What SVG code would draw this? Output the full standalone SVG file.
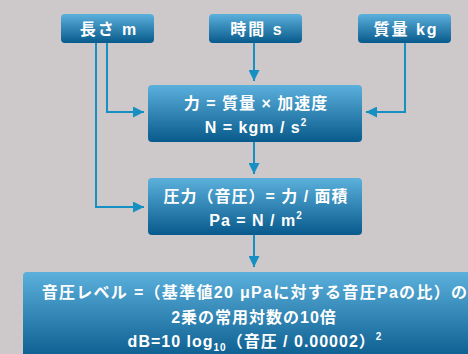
<svg xmlns="http://www.w3.org/2000/svg" width="468" height="354" viewBox="0 0 468 354">
<defs>
<linearGradient id="g" x1="0" y1="0" x2="0" y2="1">
<stop offset="0" stop-color="#5cb0dc"/>
<stop offset="1" stop-color="#075a8b"/>
</linearGradient>
<marker id="ah" markerUnits="userSpaceOnUse" markerWidth="11" markerHeight="11" viewBox="0 0 10 10" refX="10" refY="5" orient="auto">
<path d="M0,0 L10,5 L0,10 z" fill="#168fc3"/>
</marker>
<style>
.box{fill:url(#g);}
.t{font-family:"Liberation Sans","Noto Sans CJK JP",sans-serif;font-weight:bold;fill:#fff;font-size:16px;text-anchor:middle;letter-spacing:1px;}
.top{letter-spacing:2px;}
.c{fill:none;stroke:#168fc3;stroke-width:2;marker-end:url(#ah);}
.sup{font-size:10px;}
</style>
</defs>
<rect width="468" height="354" fill="#cdc9ca"/>
<g id="connectors">
<path class="c" d="M107,43 V112 H144"/>
<path class="c" d="M96,43 V207 H144"/>
<path class="c" d="M254,43 V81"/>
<path class="c" d="M405,43 V112 H366"/>
<path class="c" d="M254,142 V174"/>
<path class="c" d="M254,235 V267"/>
</g>
<g id="length">
<rect class="box" x="61" y="14" width="93" height="29" rx="4"/>
<text class="t top" x="109" y="35">長さ m</text>
</g>
<g id="time">
<rect class="box" x="209" y="14" width="93" height="29" rx="4"/>
<text class="t top" x="257" y="35">時間 s</text>
</g>
<g id="mass">
<rect class="box" x="358" y="14" width="93" height="29" rx="4"/>
<text class="t top" x="406" y="35">質量 kg</text>
</g>
<g id="force">
<rect class="box" x="148" y="85" width="214" height="57" rx="4"/>
<text class="t" x="256" y="109">力 = 質量 × 加速度</text>
<text class="t" x="256" y="133">N = kgm / s<tspan class="sup" dy="-7">2</tspan></text>
</g>
<g id="pressure">
<rect class="box" x="148" y="178" width="214" height="57" rx="4"/>
<text class="t" x="256" y="202">圧力（音圧）= 力 / 面積</text>
<text class="t" x="256" y="226">Pa = N / m<tspan class="sup" dy="-7">2</tspan></text>
</g>
<g id="level">
<rect class="box" x="23" y="272" width="462" height="90" rx="4"/>
<text class="t" x="255" y="298" style="letter-spacing:1.3px">音圧レベル =（基準値20 μPaに対する音圧Paの比）の</text>
<text class="t" x="254" y="323">2乗の常用対数の10倍</text>
<text class="t" x="255" y="347">dB=10 log<tspan class="sup" dy="4">10</tspan><tspan dy="-4">（音圧 / 0.00002）</tspan><tspan class="sup" dy="-7">2</tspan></text>
</g>
</svg>
